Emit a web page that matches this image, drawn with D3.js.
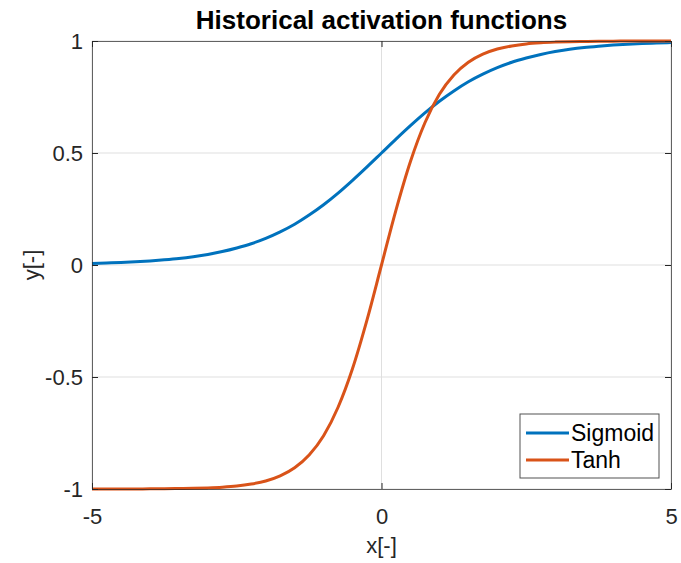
<!DOCTYPE html>
<html>
<head>
<meta charset="utf-8">
<script src="https://cdn.jsdelivr.net/npm/d3@7"></script>
<style>
  body { margin: 0; background: #fff; }
  svg { font-family: "Liberation Sans", Arial, sans-serif; }
</style>
</head>
<body>
<div id="chart"></div>
<script>
// values
const xs = [-5, -4.75, -4.5, -4.25, -4, -3.75, -3.5, -3.25, -3, -2.75, -2.5, -2.25, -2, -1.75, -1.5, -1.25, -1, -0.75, -0.5, -0.25,
  0, 0.25, 0.5, 0.75, 1, 1.25, 1.5, 1.75, 2, 2.25, 2.5, 2.75, 3, 3.25, 3.5, 3.75, 4, 4.25, 4.5, 4.75, 5];
const sigmoidY = [0.007, 0.009, 0.011, 0.014, 0.018, 0.023, 0.029, 0.037, 0.047, 0.060, 0.076, 0.095, 0.119, 0.148, 0.182, 0.223, 0.269, 0.321, 0.378, 0.438,
  0.5, 0.562, 0.622, 0.679, 0.731, 0.777, 0.818, 0.852, 0.881, 0.905, 0.924, 0.940, 0.953, 0.963, 0.971, 0.977, 0.982, 0.986, 0.989, 0.991, 0.993];
const tanhY = [-1.0, -1.0, -1.0, -0.9996, -0.9993, -0.9989, -0.998, -0.997, -0.995, -0.992, -0.987, -0.978, -0.964, -0.941, -0.905, -0.848, -0.762, -0.635, -0.462, -0.245,
  0, 0.245, 0.462, 0.635, 0.762, 0.848, 0.905, 0.941, 0.964, 0.978, 0.987, 0.992, 0.995, 0.997, 0.998, 0.9989, 0.9993, 0.9996, 1.0, 1.0, 1.0];
const seriesNames = ['Sigmoid', 'Tanh'];
const xTicks = [-5, 0, 5];
const yTicks = [-1, -0.5, 0, 0.5, 1];

const width = 681, height = 563;
const margin = { top: 41, right: 10, bottom: 74, left: 92 };
const innerW = 671 - margin.left;
const innerH = 489 - margin.top;
const colors = ['#0072BD', '#D95319'];

const svg = d3.select('#chart').append('svg')
  .attr('width', width)
  .attr('height', height);

const g = svg.append('g')
  .attr('transform', `translate(${margin.left},${margin.top})`);

const xScale = d3.scaleLinear().domain([-5, 5]).range([0, innerW]);
const yScale = d3.scaleLinear().domain([-1, 1]).range([innerH, 0]);

// grid
g.append('g').selectAll('line')
  .data(xTicks)
  .join('line')
  .attr('x1', d => xScale(d)).attr('x2', d => xScale(d))
  .attr('y1', 0).attr('y2', innerH)
  .attr('stroke', '#dfdfdf').attr('stroke-width', 1);
g.append('g').selectAll('line')
  .data(yTicks)
  .join('line')
  .attr('x1', 0).attr('x2', innerW)
  .attr('y1', d => yScale(d)).attr('y2', d => yScale(d))
  .attr('stroke', '#dfdfdf').attr('stroke-width', 1);

// curves
const series = [sigmoidY, tanhY].map((ys, i) => ({
  name: seriesNames[i],
  values: xs.map((x, j) => ({ x, y: ys[j] }))
}));

const line = d3.line()
  .x(d => xScale(d.x))
  .y(d => yScale(d.y))
  .curve(d3.curveMonotoneX);

g.append('g').selectAll('path')
  .data(series)
  .join('path')
  .attr('d', d => line(d.values))
  .attr('fill', 'none')
  .attr('stroke', (d, i) => colors[i])
  .attr('stroke-width', 3);

// axes (box with inward ticks)
const fmt = d => String(d);
const axisStyle = sel => {
  sel.attr('font-family', '"Liberation Sans", Arial, sans-serif').attr('font-size', 22);
  sel.select('.domain').attr('stroke', '#262626').attr('stroke-opacity', 0.7);
  sel.selectAll('.tick line').attr('stroke', '#262626');
  sel.selectAll('.tick text').attr('fill', '#262626');
};

g.append('g')
  .attr('transform', `translate(0,${innerH})`)
  .call(d3.axisBottom(xScale).tickValues(xTicks).tickFormat(fmt).tickSizeInner(-6).tickSizeOuter(0).tickPadding(19))
  .call(axisStyle);
g.append('g')
  .call(d3.axisTop(xScale).tickValues(xTicks).tickFormat('').tickSizeInner(-6).tickSizeOuter(0))
  .call(axisStyle);
g.append('g')
  .call(d3.axisLeft(yScale).tickValues(yTicks).tickFormat(fmt).tickSizeInner(-6).tickSizeOuter(0).tickPadding(9))
  .call(axisStyle);
g.append('g')
  .attr('transform', `translate(${innerW},0)`)
  .call(d3.axisRight(yScale).tickValues(yTicks).tickFormat('').tickSizeInner(-6).tickSizeOuter(0))
  .call(axisStyle);

// title and labels
svg.append('text')
  .attr('x', margin.left + innerW / 2)
  .attr('y', 29)
  .attr('text-anchor', 'middle')
  .attr('font-weight', 'bold')
  .attr('font-size', 26)
  .attr('fill', '#000')
  .text('Historical activation functions');

svg.append('text')
  .attr('x', margin.left + innerW / 2)
  .attr('y', 553)
  .attr('text-anchor', 'middle')
  .attr('font-size', 22)
  .attr('fill', '#262626')
  .text('x[-]');

svg.append('text')
  .attr('transform', `translate(39,${margin.top + innerH / 2}) rotate(-90)`)
  .attr('text-anchor', 'middle')
  .attr('font-size', 22)
  .attr('fill', '#262626')
  .text('y[-]');

// legend
const legend = svg.append('g').attr('transform', 'translate(520,414)');
legend.append('rect')
  .attr('width', 139).attr('height', 64)
  .attr('fill', '#fff')
  .attr('stroke', '#262626').attr('stroke-opacity', 0.8).attr('stroke-width', 1);
const items = legend.selectAll('g')
  .data(seriesNames)
  .join('g')
  .attr('transform', (d, i) => `translate(0,${19 + i * 27})`);
items.append('line')
  .attr('x1', 6).attr('x2', 49)
  .attr('stroke', (d, i) => colors[i])
  .attr('stroke-width', 3);
items.append('text')
  .attr('x', 51).attr('y', 8)
  .attr('font-size', 23)
  .attr('fill', '#000')
  .text(d => d);
</script>
</body>
</html>
